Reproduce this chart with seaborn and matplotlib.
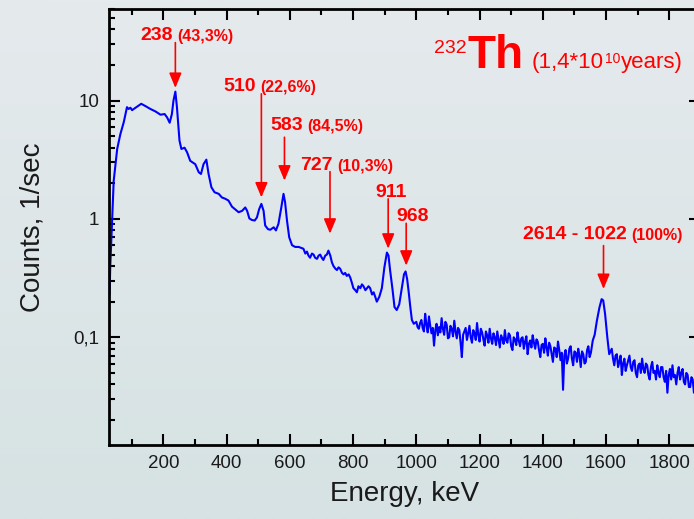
#gamma spectrum of Th-232 (log scale)
import numpy as np
import pandas as pd
import seaborn as sns
import matplotlib.pyplot as plt
from matplotlib.colors import LinearSegmentedColormap
from matplotlib.ticker import MultipleLocator, FixedLocator, LogLocator, FuncFormatter, NullFormatter

#spectrum (keV, counts per second), low energy part
energy_lo = [30, 32, 38, 43, 54, 64, 75, 85, 90, 96, 101, 112, 122, 130, 143, 159, 175, 191, 204, 212,
             220, 227, 232, 238, 243, 251, 257, 267, 275, 285, 293, 301, 312, 319, 327, 336, 343, 352, 362, 375,
             385, 396, 406, 417, 428, 438, 449, 459, 465, 472, 480, 489, 496, 503, 510, 517, 522, 531, 538, 549,
             556, 564, 573, 580, 585, 591, 598, 607, 617, 628, 643, 649, 654, 659, 664, 670, 675, 680, 686, 691,
             696, 701, 706, 712, 717, 722, 728, 733, 738, 744, 749, 754, 759, 765, 770, 775, 780, 786, 791, 796,
             801, 807, 812, 817, 823, 828, 833, 839, 844, 849, 854, 860, 865, 870, 875, 883, 891, 899, 907, 912,
             917, 925, 931, 938, 946, 954, 961, 966, 971, 976, 981, 986, 992]
counts_lo = [0.23, 0.39, 0.97, 2.1, 3.9, 5.2, 6.6, 8.8, 8.5, 8.7, 8.3, 8.7, 9.1, 9.4, 9.0, 8.5, 8.1, 7.6, 7.7, 7.2,
             6.5, 7.7, 10.0, 11.9, 8.8, 4.6, 3.9, 4.0, 3.66, 3.1, 3.0, 2.9, 2.48, 2.4, 2.9, 3.17, 2.4, 1.85, 1.68, 1.63,
             1.52, 1.48, 1.43, 1.27, 1.2, 1.14, 1.17, 1.25, 1.17, 1.01, 0.98, 0.97, 1.03, 1.21, 1.34, 1.17, 0.88, 0.82, 0.81, 0.85,
             0.80, 0.91, 1.25, 1.63, 1.38, 0.97, 0.70, 0.60, 0.58, 0.58, 0.56, 0.51, 0.53, 0.49, 0.47, 0.51, 0.50, 0.47, 0.46, 0.49,
             0.50, 0.47, 0.45, 0.49, 0.50, 0.54, 0.49, 0.43, 0.40, 0.38, 0.37, 0.39, 0.38, 0.35, 0.34, 0.35, 0.33, 0.34, 0.32, 0.29,
             0.26, 0.25, 0.24, 0.27, 0.26, 0.28, 0.27, 0.25, 0.26, 0.27, 0.26, 0.23, 0.24, 0.22, 0.20, 0.22, 0.26, 0.39, 0.52, 0.49,
             0.37, 0.25, 0.18, 0.17, 0.19, 0.26, 0.34, 0.36, 0.31, 0.24, 0.18, 0.14, 0.13]

#high energy part, noisy
energy_hi = [1000, 1004, 1008, 1012, 1016, 1020, 1024, 1028, 1032, 1036, 1040, 1044, 1048, 1052, 1056, 1060,
             1064, 1068, 1072, 1076, 1080, 1084, 1088, 1092, 1096, 1100, 1104, 1108, 1112, 1116, 1120, 1124,
             1128, 1132, 1136, 1140, 1144, 1148, 1152, 1156, 1160, 1164, 1168, 1172, 1176, 1180, 1184, 1188,
             1192, 1196, 1200, 1204, 1208, 1212, 1216, 1220, 1224, 1228, 1232, 1236, 1240, 1244, 1248, 1252,
             1256, 1260, 1264, 1268, 1272, 1276, 1280, 1284, 1288, 1292, 1296, 1300, 1304, 1308, 1312, 1316,
             1320, 1324, 1328, 1332, 1336, 1340, 1344, 1348, 1352, 1356, 1360, 1364, 1368, 1372, 1376, 1380,
             1384, 1388, 1392, 1396, 1400, 1404, 1408, 1412, 1416, 1420, 1424, 1428, 1432, 1436, 1440, 1444,
             1448, 1452, 1456, 1460, 1464, 1468, 1472, 1476, 1480, 1484, 1488, 1492, 1496, 1500, 1504, 1508,
             1512, 1516, 1520, 1524, 1528, 1532, 1536, 1540, 1544, 1548, 1552, 1558, 1564, 1571, 1579, 1586,
             1591, 1597, 1604, 1610, 1618, 1622, 1626, 1630, 1634, 1638, 1642, 1646, 1650, 1654, 1658, 1662,
             1666, 1670, 1674, 1678, 1682, 1686, 1690, 1694, 1698, 1702, 1706, 1710, 1714, 1718, 1722, 1726,
             1730, 1734, 1738, 1742, 1746, 1750, 1754, 1758, 1762, 1766, 1770, 1774, 1778, 1782, 1786, 1790,
             1794, 1798, 1802, 1806, 1810, 1814, 1818, 1822, 1826, 1830, 1834, 1838, 1842, 1846, 1850, 1854,
             1858, 1862, 1866, 1870, 1874, 1878, 1882]
counts_hi = [0.135, 0.122, 0.118, 0.132, 0.140, 0.120, 0.112, 0.158, 0.128, 0.110, 0.150, 0.125, 0.108, 0.120, 0.085, 0.115,
             0.130, 0.104, 0.122, 0.110, 0.145, 0.118, 0.105, 0.135, 0.128, 0.098, 0.100, 0.125, 0.118, 0.102, 0.138, 0.112,
             0.098, 0.120, 0.115, 0.090, 0.068, 0.105, 0.112, 0.120, 0.095, 0.108, 0.125, 0.100, 0.090, 0.115, 0.108, 0.095,
             0.132, 0.105, 0.092, 0.118, 0.110, 0.096, 0.085, 0.112, 0.104, 0.090, 0.118, 0.098, 0.088, 0.108, 0.100, 0.086,
             0.112, 0.096, 0.082, 0.104, 0.098, 0.088, 0.115, 0.094, 0.090, 0.108, 0.104, 0.084, 0.078, 0.100, 0.096, 0.086,
             0.110, 0.094, 0.084, 0.098, 0.100, 0.080, 0.092, 0.102, 0.072, 0.088, 0.094, 0.082, 0.104, 0.090, 0.080, 0.096,
             0.092, 0.078, 0.068, 0.086, 0.088, 0.074, 0.098, 0.082, 0.070, 0.090, 0.084, 0.072, 0.062, 0.082, 0.080, 0.068,
             0.092, 0.078, 0.064, 0.074, 0.036, 0.070, 0.078, 0.060, 0.066, 0.080, 0.084, 0.066, 0.058, 0.076, 0.074, 0.062,
             0.080, 0.070, 0.056, 0.076, 0.072, 0.060, 0.062, 0.078, 0.084, 0.068, 0.074, 0.094, 0.105, 0.138, 0.178, 0.210,
             0.205, 0.157, 0.100, 0.072, 0.080, 0.066, 0.058, 0.070, 0.072, 0.056, 0.062, 0.070, 0.048, 0.060, 0.066, 0.052,
             0.058, 0.064, 0.070, 0.056, 0.052, 0.062, 0.064, 0.050, 0.046, 0.058, 0.060, 0.050, 0.066, 0.054, 0.050, 0.060,
             0.058, 0.048, 0.044, 0.056, 0.062, 0.050, 0.052, 0.044, 0.058, 0.050, 0.046, 0.056, 0.056, 0.046, 0.042, 0.052,
             0.034, 0.048, 0.054, 0.044, 0.058, 0.046, 0.048, 0.040, 0.050, 0.056, 0.044, 0.050, 0.054, 0.042, 0.040, 0.050,
             0.048, 0.038, 0.038, 0.046, 0.044, 0.034, 0.036]

#peak labels
peak_energy = [238, 510, 583, 727, 911, 968, 1592]
peak_label = ["238", "510", "583", "727", "911", "968", "2614 - 1022"]
peak_pct = ["(43,3%)", "(22,6%)", "(84,5%)", "(10,3%)", "", "", "(100%)"]
arrow_top = [30.9, 11.4, 4.90, 2.51, 1.476, 0.918, 0.595]
arrow_tip = [12.8, 1.52, 2.11, 0.751, 0.561, 0.403, 0.256]
#where the label text starts (keV, counts)
label_x = [127, 389, 538, 633, 870, 938, 1337]
label_y = [32.2, 12.1, 5.69, 2.61, 1.54, 0.967, 0.677]

sns.set_style("ticks")
plt.rcParams['font.family'] = ['Liberation Sans', 'DejaVu Sans']

fig = plt.figure(figsize=(6.94, 5.19), dpi=100)

#light gradient background
bg = fig.add_axes([0, 0, 1, 1], zorder=-1)
grad = np.linspace(0, 1, 256).reshape(-1, 1)
bg.imshow(grad, cmap=LinearSegmentedColormap.from_list('bg', ['#e5eaed', '#d6e2e3']),
          aspect='auto', extent=[0, 1, 0, 1], origin='upper')
bg.axis('off')

ax = fig.add_axes([0.157, 0.1426, 0.8516, 0.841])
ax.patch.set_alpha(0)

df = pd.DataFrame({'energy': energy_lo + energy_hi, 'counts': counts_lo + counts_hi})
sns.lineplot(data=df, x='energy', y='counts', ax=ax, color='#0000ff', lw=1.5, sort=False, estimator=None)

ax.set_yscale('log')
ax.set_xlim(28, 1897)
ax.set_ylim(0.0123, 60)

ax.xaxis.set_major_locator(MultipleLocator(200))
ax.xaxis.set_minor_locator(MultipleLocator(100))
ax.yaxis.set_major_locator(FixedLocator([0.1, 1, 10]))
ax.yaxis.set_minor_locator(LogLocator(base=10, subs=np.arange(2, 10)))
ax.yaxis.set_major_formatter(FuncFormatter(lambda v, p: f'{v:g}'.replace('.', ',')))
ax.yaxis.set_minor_formatter(NullFormatter())

ax.tick_params(which='both', direction='in', top=True, right=True, width=1.5,
               color='black', labelcolor='#1a1a1a', labelsize=13.5, pad=7)
ax.tick_params(which='major', length=8)
ax.tick_params(which='minor', length=4)
for s in ax.spines.values():
    s.set_linewidth(2)
    s.set_color('black')

ax.set_xlabel('Energy, keV', fontsize=20, labelpad=7, color='#1a1a1a')
ax.set_ylabel('Counts, 1/sec', fontsize=20, labelpad=20, color='#1a1a1a')

#arrows and labels for the peaks
for e, lab, pct, top, tip, lx, ly in zip(peak_energy, peak_label, peak_pct, arrow_top, arrow_tip, label_x, label_y):
    ax.annotate('', xy=(e, tip), xytext=(e, top),
                arrowprops=dict(arrowstyle='-|>,head_length=0.6,head_width=0.25', color='red',
                                lw=1.2, mutation_scale=15, shrinkA=0, shrinkB=0))
    t = ax.text(lx, ly, lab, color='red', fontsize=14, fontweight='bold', ha='left', va='baseline')
    if pct:
        ax.annotate(pct, xy=(1, 0), xycoords=t, xytext=(3, 0), textcoords='offset points',
                    color='red', fontsize=11.5, fontweight='bold', ha='left', va='bottom')

#isotope title
ax.text(0.6074, 0.8637, 'Th', transform=ax.transAxes, color='red', fontsize=33, fontweight='bold',
        ha='left', va='baseline')
ax.text(0.6058, 0.898, '232', transform=ax.transAxes, color='red', fontsize=14, ha='right', va='baseline')
t1 = ax.text(0.7157, 0.8637, '(1,4*10', transform=ax.transAxes, color='red', fontsize=16,
             ha='left', va='baseline')
t2 = ax.annotate('10', xy=(1, 1), xycoords=t1, xytext=(0.5, 0), textcoords='offset points',
                 color='red', fontsize=10, ha='left', va='top')
ax.annotate('years)', xy=(1, 0), xycoords=(t2, t1), xytext=(0.5, 0), textcoords='offset points',
            color='red', fontsize=16, ha='left', va='bottom')

plt.savefig('out.png', dpi=100)
